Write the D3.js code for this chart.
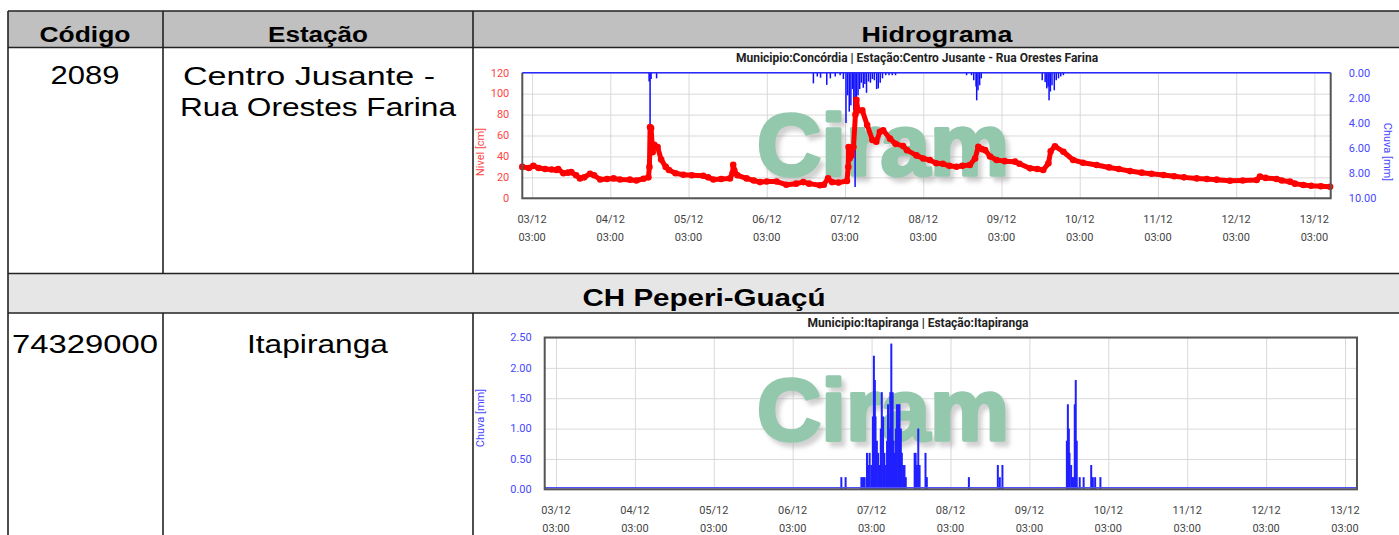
<!DOCTYPE html>
<html><head><meta charset="utf-8">
<script src="https://cdn.jsdelivr.net/npm/d3@7"></script>
<style>html,body{margin:0;padding:0;background:#fff;} svg{display:block;}</style>
</head><body>
<script>
// ---------------- DATA ----------------
const tableHeaders = ["Código", "Estação", "Hidrograma"];
const station1Code = "2089";
const station1Name = ["Centro Jusante -", "Rua Orestes Farina"];
const sectionTitle = "CH Peperi-Guaçú";
const station2Code = "74329000";
const station2Name = ["Itapiranga"];
const chart1Title = "Municipio:Concórdia | Estação:Centro Jusante - Rua Orestes Farina";
const chart2Title = "Municipio:Itapiranga | Estação:Itapiranga";
const watermark = "Ciram";

const dayLabels = ["03/12","04/12","05/12","06/12","07/12","08/12","09/12","10/12","11/12","12/12","13/12"];
const timeLabel = "03:00";
const levelTicks = [0, 20, 40, 60, 80, 100, 120];
const rainTopTicks = [0, 2, 4, 6, 8, 10];
const rainBottomTicks = [0, 0.5, 1, 1.5, 2, 2.5];

// hours since 03/12 00:00
const levelHours = [0,2,3.4,5,7,9,10.5,11,12.6,14,15,16.5,17.7,19,20.8,22,23.9,26,28,30,33,35,37.2,38.7,39.0,39.2,39.5,40.0,40.5,41.5,42.6,44,45,47,49.4,52,55.5,57,58.6,61,63.7,64.5,64.7,65,66,68.8,71,72.9,75,78,81,84,86.2,88,91.3,92.5,93.8,95,97,99.6,100.0,100.1,100.4,101,101.6,102.2,102.5,103,104.3,105.8,107.4,108.6,109.7,110.7,112.8,114.5,116.8,118,120.9,123,125,127,129,131,133.2,135,137.3,138.9,139.9,141,142,143.5,145.5,148,151.2,152.5,155.8,158,159.8,161.4,162.1,163.4,166,169,172,176.2,180,183,186.4,190,193,196.7,200,203,206.9,210,213,217.1,221,225.3,226.3,228,231.4,233,235.5,237,239.6,242,245,247.8];
const levelValues = [30,29,31,29,28,27.5,27,28,24,24.5,25,22,19,20,23.5,22,18,18.5,19,18,17.8,17,18.7,20,30,68,67,44,51,49,37,30,27,24,22.5,22,21.5,20,18,18.5,19,24,32,27,22,19,17,15.5,16,16,13,14,15.5,14,12.5,13,19,15.5,15,16.5,30,49,38,41,49,80,94,84,84,70,55.7,54,63.6,65,57,52,50,46,41,38,36.6,33.5,33,31,30.2,31,31.8,38,49.3,47,46,40,36.6,35.5,35,33,28.6,28,27,33.4,45,49.8,44.5,36.6,34,31.8,29.5,28,26,24.5,23.5,22.3,21,20,19,18.5,17.8,16.8,17,17.5,20.7,19.5,18.5,17,15.9,14,12.7,12,11.5,11];

const rainTopHours = [38.9,39.2,39.5,41.2,89.3,90.5,91.5,93.4,94.5,96,97.5,98.5,99.3,99.8,100.3,100.8,101.3,101.7,102.1,102.5,103,103.5,104,104.6,105.1,105.6,106.2,106.8,107.4,108,108.7,109.2,109.8,110.5,111.5,112.5,113.5,114.5,136.3,137.8,138.5,139.2,139.4,139.8,140.3,140.8,159.5,160.4,160.9,161.3,161.6,162,162.5,163.2,163.8,164.5,165.2,166];
const rainTopValues = [0.7,6.0,0.5,0.45,0.85,0.3,0.4,0.97,0.45,0.3,0.2,0.5,4.0,1.8,3.1,2.6,1.3,3.0,9.1,3.6,1.8,1.3,0.8,1.2,0.9,1.6,0.7,0.8,0.5,0.6,1.3,1.25,0.8,0.45,0.2,0.2,0.2,0.2,0.2,0.2,0.6,1.1,2.2,1.4,1.0,0.45,0.6,0.75,1.25,1.1,2.2,1.5,1.0,1.4,0.6,0.45,0.3,0.2];

const rainBottomHours = [89.8,91.1,95.9,96.4,96.9,97.6,98.0,98.4,98.9,99.4,99.7,100.0,100.2,100.6,101.0,101.4,101.8,102.1,102.5,102.9,103.4,103.7,104.0,104.4,104.7,105.0,105.4,105.7,106.0,106.4,106.7,107.1,107.5,107.9,108.2,108.6,109.0,109.4,112.1,112.4,112.8,113.2,113.6,115.4,115.8,128.6,137.4,138.0,138.8,158.4,158.7,159.0,159.2,159.7,160.1,160.4,160.8,161.1,161.4,162.3,163.5,165.8,166.3,167.0,168.6];
const rainBottomValues = [0.2,0.2,0.2,0.2,0.2,0.6,0.4,0.6,0.4,1.2,2.2,1.8,1.2,0.8,0.6,0.4,1.0,1.6,1.2,0.6,0.4,0.8,1.4,1.0,1.6,2.4,1.6,0.8,0.6,1.0,1.4,1.4,1.4,1.0,0.6,0.4,0.4,0.2,0.6,0.6,0.4,1.0,0.4,0.6,0.2,0.2,0.4,0.2,0.4,0.8,1.4,1.0,0.6,0.4,0.2,0.2,1.4,1.8,0.8,0.2,0.2,0.4,0.2,0.2,0.2];

// ---------------- DRAW ----------------
const W = 1399, H = 535;
const svg = d3.select("body").append("svg").attr("width", W).attr("height", H)
  .style("background", "#fff");

const t0 = Date.UTC(2023, 11, 3, 0, 0);
const hToDate = h => new Date(t0 + h * 3600000);
const tickDates = dayLabels.map((d, i) => new Date(Date.UTC(2023, 11, 3 + i, 3, 0)));

const defs = svg.append("defs");
const f = defs.append("filter").attr("id", "shadow").attr("x", "-10%").attr("y", "-15%").attr("width", "130%").attr("height", "150%");
f.append("feDropShadow").attr("dx", 4).attr("dy", 5).attr("stdDeviation", 2.2)
  .attr("flood-color", "#9a9a9a").attr("flood-opacity", 0.45);

// ---------- table ----------
const tFont = "'Liberation Sans', Arial, sans-serif";
const T = svg.append("g");
const xL = 8, xC1 = 163, xC2 = 473, xR = 1401;
const yTop = 11, yHead = 47.5, ySec1 = 273.5, ySec2 = 313, yBot = 545;
T.append("rect").attr("x", xL).attr("y", yTop).attr("width", xR - xL).attr("height", yHead - yTop).attr("fill", "#c0c0c0");
T.append("rect").attr("x", xL).attr("y", ySec1).attr("width", xR - xL).attr("height", ySec2 - ySec1).attr("fill", "#e6e6e6");
const hl = [yTop, yHead, ySec1, ySec2];
hl.forEach(y => T.append("line").attr("x1", xL).attr("x2", xR).attr("y1", y).attr("y2", y)
  .attr("stroke", "#222").attr("stroke-width", 1.6));
T.append("line").attr("x1", xL).attr("x2", xL).attr("y1", yTop).attr("y2", yBot).attr("stroke", "#222").attr("stroke-width", 1.6);
[[yTop, ySec1], [ySec2, yBot]].forEach(([a, b]) => {
  [xC1, xC2].forEach(x => T.append("line").attr("x1", x).attr("x2", x).attr("y1", a).attr("y2", b)
    .attr("stroke", "#222").attr("stroke-width", 1.6));
});

function stretchText(txt, cx, baseline, size, weight, width, anchor) {
  const el = T.append("text").attr("x", cx).attr("y", baseline)
    .attr("text-anchor", anchor || "middle")
    .attr("font-family", tFont).attr("font-size", size).attr("font-weight", weight)
    .attr("fill", "#000").text(txt);
  if (width) el.attr("textLength", width).attr("lengthAdjust", "spacingAndGlyphs");
  return el;
}
stretchText(tableHeaders[0], 85, 42, 22, "bold", 91);
stretchText(tableHeaders[1], 318, 42, 22, "bold", 100);
stretchText(tableHeaders[2], 937, 42, 22, "bold", 151);
stretchText(station1Code, 85, 84, 26, "normal", 69);
stretchText(station1Name[0], 309, 85, 26, "normal", 252);
stretchText(station1Name[1], 318, 116, 26, "normal", 276);
stretchText(sectionTitle, 704, 306, 24, "bold", 243);
stretchText(station2Code, 85, 353, 26, "normal", 146);
stretchText(station2Name[0], 317.5, 353, 26, "normal", 141);

// ---------- chart helpers ----------
const cFont = "Roboto, 'Open Sans', sans-serif";
function watermarkAt(g, x, y) {
  g.append("text").attr("x", x).attr("y", y).attr("font-family", tFont).attr("font-weight", "bold")
    .attr("font-size", 88).attr("fill", "#93c8ad").attr("stroke", "#93c8ad").attr("stroke-width", 3.5)
    .attr("stroke-linejoin", "round").attr("filter", "url(#shadow)")
    .attr("textLength", 252).attr("lengthAdjust", "spacingAndGlyphs").text(watermark);
}
function xLabels(g, x, yDate, yTime) {
  g.selectAll("text.d").data(tickDates).join("text").attr("class", "d")
    .attr("x", d => x(d)).attr("y", yDate).attr("text-anchor", "middle")
    .attr("font-family", cFont).attr("font-size", 11).attr("fill", "#444")
    .text((d, i) => dayLabels[i]);
  g.selectAll("text.t").data(tickDates).join("text").attr("class", "t")
    .attr("x", d => x(d)).attr("y", yTime).attr("text-anchor", "middle")
    .attr("font-family", cFont).attr("font-size", 11).attr("fill", "#444")
    .text(timeLabel);
}

// ---------- Chart 1 ----------
{
  const L = 522.3, R = 1330.7, Tp = 72.7, B = 198.3;
  const x = d3.scaleUtc().domain([hToDate(0), hToDate(248)]).range([L, R]);
  const yL = d3.scaleLinear().domain([0, 120]).range([B, Tp]);
  const yR = d3.scaleLinear().domain([0, 10]).range([Tp, B]);
  const g = svg.append("g");

  g.append("text").attr("x", 917).attr("y", 62).attr("text-anchor", "middle")
    .attr("font-family", cFont).attr("font-weight", "bold").attr("font-size", 12).attr("fill", "#222")
    .text(chart1Title);

  // grid
  g.append("g").attr("transform", `translate(${L},0)`)
    .call(d3.axisLeft(yL).tickValues(levelTicks).tickSize(-(R - L)).tickFormat(""))
    .call(s => s.select(".domain").remove())
    .call(s => s.selectAll("line").attr("stroke", "#d9d9d9"));
  g.append("g").attr("transform", `translate(0,${B})`)
    .call(d3.axisBottom(x).tickValues(tickDates).tickSize(-(B - Tp)).tickFormat(""))
    .call(s => s.select(".domain").remove())
    .call(s => s.selectAll("line").attr("stroke", "#d9d9d9"));

  watermarkAt(g, 757, 175);

  // rain bars (inverted, from top)
  g.selectAll("rect.rain").data(rainTopHours).join("rect").attr("class", "rain")
    .attr("x", d => x(hToDate(d)) - 0.75).attr("width", 1.5)
    .attr("y", Tp).attr("height", (d, i) => yR(rainTopValues[i]) - Tp)
    .attr("fill", "#1010ff");

  // level line + dots
  const pts = levelHours.map((h, i) => [x(hToDate(h)), yL(levelValues[i])]);
  g.append("path").attr("d", d3.line()(pts)).attr("fill", "none")
    .attr("stroke", "#ff0000").attr("stroke-width", 5).attr("stroke-linejoin", "round");
  g.selectAll("circle").data(pts).join("circle").attr("cx", d => d[0]).attr("cy", d => d[1])
    .attr("r", 3.3).attr("fill", "#ff0000");

  // frame
  g.append("path").attr("d", `M${L},${Tp}V${B}H${R}V${Tp}`).attr("fill", "none")
    .attr("stroke", "#555").attr("stroke-width", 2);
  g.append("line").attr("x1", L).attr("x2", R).attr("y1", Tp).attr("y2", Tp)
    .attr("stroke", "#2a2aff").attr("stroke-width", 1.6);

  // left axis labels
  g.append("g").attr("transform", `translate(${L - 13},0)`)
    .call(d3.axisLeft(yL).tickValues(levelTicks).tickSize(0).tickPadding(0).tickFormat(d3.format("d")))
    .call(s => s.select(".domain").remove())
    .call(s => s.selectAll("text").attr("font-family", cFont).attr("font-size", 11).attr("fill", "#ff4545").attr("dy", "0.3em"));
  g.append("text").attr("transform", `translate(484,152) rotate(-90)`)
    .attr("text-anchor", "middle").attr("font-family", cFont).attr("font-size", 11).attr("fill", "#ff4545")
    .text("Nivel [cm]");

  // right axis labels
  g.append("g").attr("transform", `translate(${R + 18},0)`)
    .call(d3.axisRight(yR).tickValues(rainTopTicks).tickSize(0).tickPadding(0).tickFormat(d3.format(".2f")))
    .call(s => s.select(".domain").remove())
    .call(s => s.selectAll("text").attr("font-family", cFont).attr("font-size", 11).attr("fill", "#4848ff").attr("dy", "0.3em"));
  g.append("text").attr("transform", `translate(1384,152) rotate(90)`)
    .attr("text-anchor", "middle").attr("font-family", cFont).attr("font-size", 11).attr("fill", "#4848ff")
    .text("Chuva [mm]");

  xLabels(g, x, 223, 241);
}

// ---------- Chart 2 ----------
{
  const L = 544.7, R = 1357, Tp = 337.5, B = 489.3;
  const x = d3.scaleUtc().domain([hToDate(-0.43), hToDate(246.65)]).range([L, R]);
  const y = d3.scaleLinear().domain([0, 2.5]).range([B, Tp]);
  const g = svg.append("g");

  g.append("text").attr("x", 918).attr("y", 327).attr("text-anchor", "middle")
    .attr("font-family", cFont).attr("font-weight", "bold").attr("font-size", 12).attr("fill", "#222")
    .text(chart2Title);

  g.append("g").attr("transform", `translate(${L},0)`)
    .call(d3.axisLeft(y).tickValues(rainBottomTicks).tickSize(-(R - L)).tickFormat(""))
    .call(s => s.select(".domain").remove())
    .call(s => s.selectAll("line").attr("stroke", "#d9d9d9"));
  g.append("g").attr("transform", `translate(0,${B})`)
    .call(d3.axisBottom(x).tickValues(tickDates).tickSize(-(B - Tp)).tickFormat(""))
    .call(s => s.select(".domain").remove())
    .call(s => s.selectAll("line").attr("stroke", "#d9d9d9"));

  watermarkAt(g, 757, 440);

  g.selectAll("rect.rain").data(rainBottomHours).join("rect").attr("class", "rain")
    .attr("x", d => x(hToDate(d)) - 1).attr("width", 2)
    .attr("y", (d, i) => y(rainBottomValues[i])).attr("height", (d, i) => B - y(rainBottomValues[i]))
    .attr("fill", "#2020ff");
  g.append("line").attr("x1", L).attr("x2", R).attr("y1", y(0) - 1.5).attr("y2", y(0) - 1.5)
    .attr("stroke", "#5050ff").attr("stroke-width", 1.5);

  g.append("rect").attr("x", L).attr("y", Tp).attr("width", R - L).attr("height", B - Tp)
    .attr("fill", "none").attr("stroke", "#555").attr("stroke-width", 2);

  g.append("g").attr("transform", `translate(${L - 13},0)`)
    .call(d3.axisLeft(y).tickValues(rainBottomTicks).tickSize(0).tickPadding(0).tickFormat(d3.format(".2f")))
    .call(s => s.select(".domain").remove())
    .call(s => s.selectAll("text").attr("font-family", cFont).attr("font-size", 11).attr("fill", "#4848ff").attr("dy", "0.3em"));
  g.append("text").attr("transform", `translate(484,418) rotate(-90)`)
    .attr("text-anchor", "middle").attr("font-family", cFont).attr("font-size", 11).attr("fill", "#4848ff")
    .text("Chuva [mm]");

  xLabels(g, x, 514, 532);
}
</script>
</body></html>
